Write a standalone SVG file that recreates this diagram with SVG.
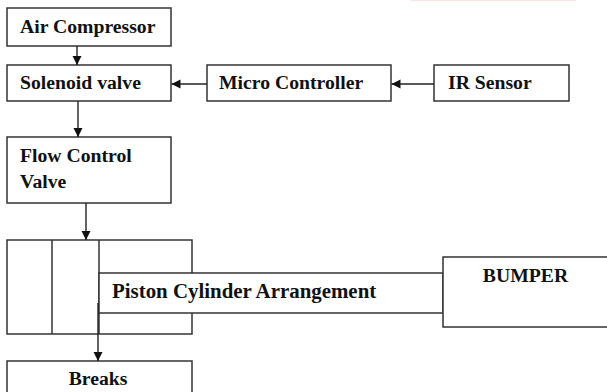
<svg xmlns="http://www.w3.org/2000/svg" width="607" height="392" viewBox="0 0 607 392">
<style>
.box{fill:#fff;stroke:#333;stroke-width:1.5}
.ln{fill:none;stroke:#333;stroke-width:1.5}
.t{font-family:"Liberation Serif","Times New Roman",serif;font-weight:bold;font-size:19.7px;fill:#111}
.c{stroke:#222;stroke-width:1.4;fill:none;marker-end:url(#ah)}
</style>
<defs>
<marker id="ah" markerUnits="userSpaceOnUse" markerWidth="10" markerHeight="10" refX="9" refY="4.5" orient="auto">
<path d="M0,0 L9,4.5 L0,9 z" fill="#111"/>
</marker>
</defs>
<rect x="407" y="-12" width="173" height="13" rx="6" fill="#fde2e2"/>
<g id="air-compressor">
<rect class="box" x="7" y="8" width="164" height="38"/>
<text class="t" x="20" y="33">Air Compressor</text>
</g>
<g id="solenoid-valve">
<rect class="box" x="7" y="65" width="164" height="36"/>
<text class="t" x="20" y="89">Solenoid valve</text>
</g>
<g id="micro-controller">
<rect class="box" x="207" y="65" width="184" height="36"/>
<text class="t" x="219" y="89">Micro Controller</text>
</g>
<g id="ir-sensor">
<rect class="box" x="434" y="65" width="135" height="36"/>
<text class="t" x="448" y="89">IR Sensor</text>
</g>
<g id="flow-control-valve">
<rect class="box" x="7" y="137" width="164" height="66"/>
<text class="t" x="20" y="162">Flow Control</text>
<text class="t" x="20" y="188">Valve</text>
</g>
<g id="piston-cylinder">
<rect class="box" x="7" y="240" width="185" height="94"/>
<line class="ln" x1="52" y1="240" x2="52" y2="334"/>
<line class="ln" x1="99" y1="240" x2="99" y2="334"/>
<rect class="box" x="99" y="273" width="344" height="40"/>
<text class="t" x="112" y="298" style="font-size:20.9px">Piston Cylinder Arrangement</text>
</g>
<g id="bumper">
<rect class="box" x="443" y="257" width="170" height="70"/>
<text class="t" x="525.5" y="282" text-anchor="middle">BUMPER</text>
</g>
<g id="breaks">
<rect class="box" x="7" y="361" width="185" height="40"/>
<text class="t" x="98" y="385" text-anchor="middle">Breaks</text>
</g>
<g id="connectors">
<line class="c" x1="77" y1="46" x2="77" y2="65"/>
<line class="c" x1="207" y1="84" x2="171.5" y2="84"/>
<line class="c" x1="434" y1="84" x2="391.5" y2="84"/>
<line class="c" x1="78" y1="101" x2="78" y2="137"/>
<line class="c" x1="86" y1="203" x2="86" y2="240"/>
<line class="c" x1="98" y1="303" x2="98" y2="361" stroke="#555"/>
</g>
</svg>
